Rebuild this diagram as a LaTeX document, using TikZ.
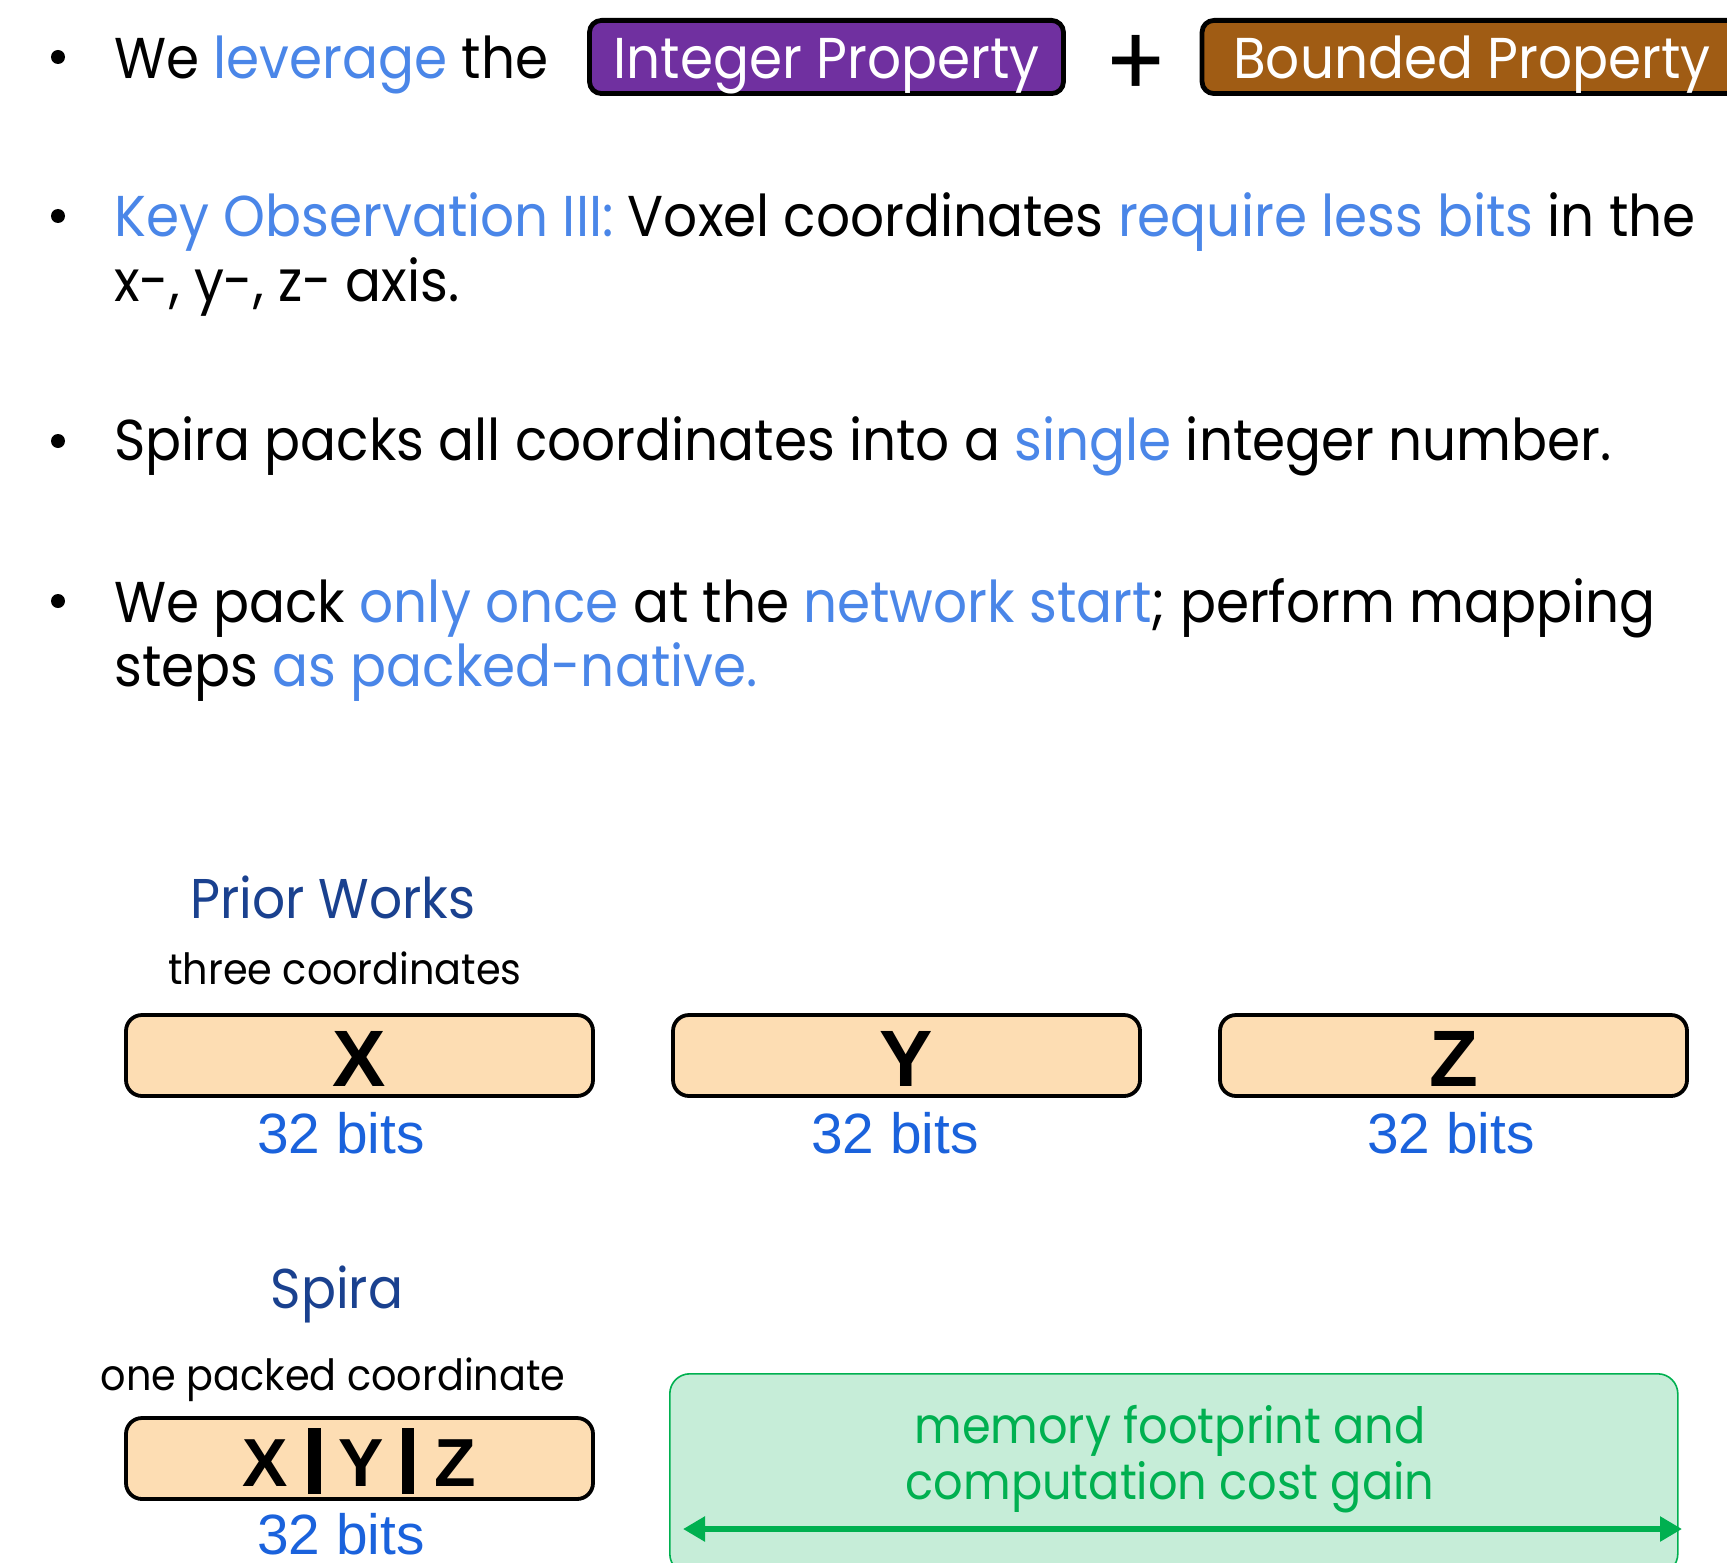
\documentclass[tikz,border=0pt]{standalone}
\usepackage{fontspec}
\setmainfont[FakeStretch=0.925]{Poppins}
\newfontfamily\numfont{Liberation Sans}
\usetikzlibrary{arrows.meta}

\definecolor{accent}{HTML}{4A86E8}
\definecolor{headblue}{HTML}{1A418F}
\definecolor{bitblue}{HTML}{1A62DC}
\definecolor{intpurple}{HTML}{7030A0}
\definecolor{bndbrown}{HTML}{A05C14}
\definecolor{peach}{HTML}{FDDDB3}
\definecolor{gainfill}{HTML}{C6EDD8}
\definecolor{gaingreen}{HTML}{00B050}

\newcommand{\hl}[1]{\textcolor{accent}{#1}}
\newcommand{\packbar}{\rule[-4pt]{6.2pt}{33pt}}

\tikzset{
  body/.style={anchor=base west, inner sep=0pt, font=\fontsize{28.8}{34}\selectfont},
  dot/.style={circle, fill=black, inner sep=0pt, minimum size=7pt},
  propbox/.style={anchor=base, draw=black, line width=2.4pt, rounded corners=6pt,
    inner xsep=0pt, inner ysep=0pt, text height=29.3pt, text depth=7.3pt,
    text=white, font=\fontsize{28.8}{34}\selectfont},
  heading/.style={anchor=base, inner sep=0pt, text=headblue, font=\fontsize{28}{34}\selectfont},
  caption/.style={anchor=base, inner sep=0pt, font=\fontsize{21.5}{26}\selectfont},
  coordbox/.style={anchor=base, draw=black, line width=1.9pt, fill=peach, rounded corners=8pt,
    inner xsep=0pt, inner ysep=0pt, minimum width=233.5pt,
    font=\numfont\bfseries\fontsize{40}{48}\selectfont},
  bits/.style={anchor=base, inner sep=0pt, text=bitblue, font=\numfont\fontsize{28.4}{34}\selectfont},
  gainbox/.style={anchor=north west, draw=gaingreen, line width=0.8pt, fill=gainfill,
    rounded corners=10pt, inner sep=0pt, minimum width=504pt, minimum height=100pt},
  gaintext/.style={anchor=base, inner sep=0pt, text=gaingreen, font=\fontsize{25}{30}\selectfont},
  gainarrow/.style={draw=gaingreen, line width=3pt,
    {Triangle[length=11pt,width=12pt]}-{Triangle[length=11pt,width=12pt]}}
}

\begin{document}
\begin{tikzpicture}[x=0.5pt, y=-0.5pt]
\useasboundingbox (0,0) rectangle (1727,1562);

% bullet list
\node[dot] (d1) at (58,57) {};
\node[body] (l1) at (114,79) {We \hl{leverage} the};
\node[propbox, fill=intpurple, minimum width=237pt] (intp) at (826.5,79) {Integer Property};
\node[anchor=base, inner sep=0pt, font=\fontsize{50}{58}\selectfont] (plus) at (1136,97.5) {+};
\node[propbox, fill=bndbrown, minimum width=270pt] (bndp) at (1472,79) {Bounded Property};

\node[dot] (d2) at (58,216) {};
\node[body] (l2a) at (114,236) {\hl{Key Observation III:} Voxel coordinates \hl{require less bits} in the};
\node[body] (l2b) at (114,301) {x-, y-, z- axis.};

\node[dot] (d3) at (58,441) {};
\node[body] (l3) at (114,460) {Spira packs all coordinates into a \hl{single} integer number.};

\node[dot] (d4) at (58,601) {};
\node[body] (l4a) at (114,622) {We pack \hl{only once} at the \hl{network start}; perform mapping};
\node[body] (l4b) at (114,686) {steps \hl{as packed-native.}};

% prior works: three separate coordinates
\node[heading] (prior) at (333,918) {Prior Works};
\node[caption] (three) at (345,984) {three coordinates};
\node[coordbox, text height=35.5pt, text depth=5pt] (bx) at (359.5,1086) {X};
\node[coordbox, text height=35.5pt, text depth=5pt] (by) at (906.5,1086) {Y};
\node[coordbox, text height=35.5pt, text depth=5pt] (bz) at (1453.5,1086) {Z};
\node[bits] (sx) at (341,1153) {32 bits};
\node[bits] (sy) at (895,1153) {32 bits};
\node[bits] (sz) at (1451,1153) {32 bits};

% spira: one packed coordinate
\node[heading] (spira) at (337,1308) {Spira};
\node[caption] (one) at (333,1390) {one packed coordinate};
\node[coordbox, text height=34pt, text depth=6.5pt,
      font=\numfont\bfseries\fontsize{34}{40}\selectfont] (bp) at (359.5,1486)
  {X\hspace{10pt}\packbar\hspace{9pt}Y\hspace{9pt}\packbar\hspace{10pt}Z};
\node[bits] (sp) at (341,1554) {32 bits};

% gain annotation
\node[gainbox] (gain) at (669,1373) {};
\node[gaintext] (g1) at (1170,1443) {memory footprint and};
\node[gaintext] (g2) at (1170,1499) {computation cost gain};
\coordinate (al) at (683,1529);
\coordinate (ar) at (1682,1529);
\draw[gainarrow] (al) -- (ar);
\end{tikzpicture}
\end{document}
